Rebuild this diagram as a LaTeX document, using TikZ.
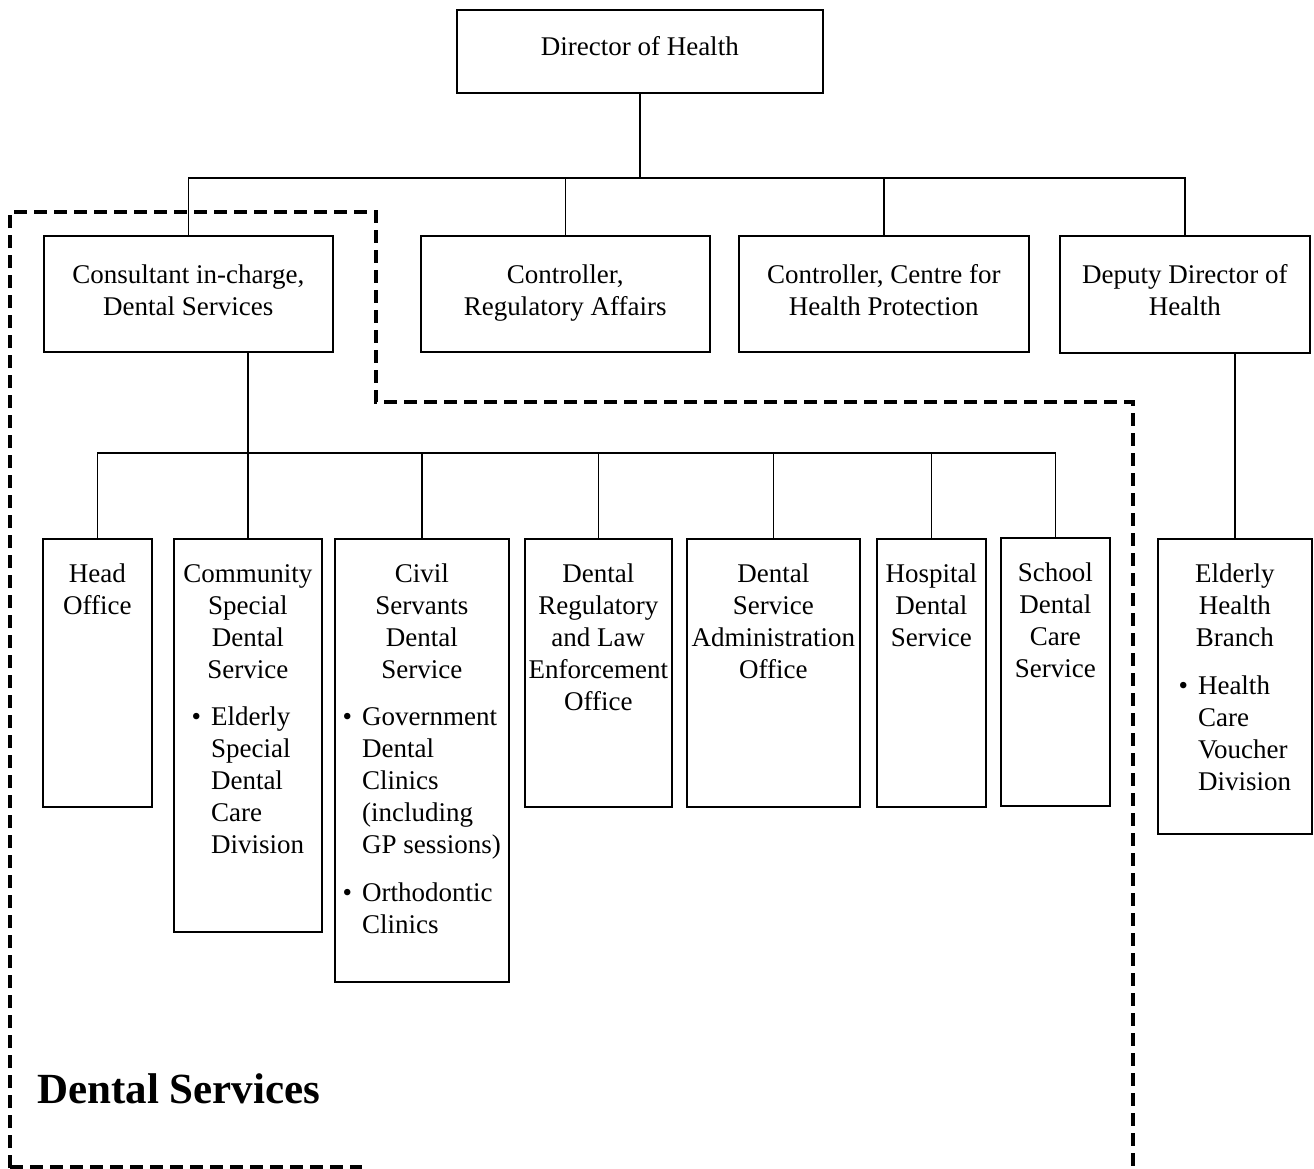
\documentclass[tikz,border=0pt]{standalone}
\usepackage{fontspec}
\setmainfont{Liberation Serif}

\tikzset{
  post/.style={draw, line width=1.6pt, inner sep=0pt, anchor=north west,
    font=\fontsize{27}{32}\selectfont},
  link/.style={line width=1.5pt},
  zone/.style={line width=3.2pt, dash pattern=on 13pt off 7pt},
}

\begin{document}
\begin{tikzpicture}[x=1pt, y=-1pt]
  \useasboundingbox (0,0) rectangle (1314,1168);
  % top of the tree
  \node[post] (dir) at (456,9) {\parbox[t][83pt][t]{366pt}{\centering\rule{0pt}{46pt}Director of Health}};
  \node[post] (cons) at (43,235) {\parbox[t][116pt][t]{289pt}{\centering\rule{0pt}{48pt}Consultant in-charge,\\Dental Services}};
  \node[post] (reg) at (420,235) {\parbox[t][116pt][t]{289pt}{\centering\rule{0pt}{48pt}Controller,\\Regulatory Affairs}};
  \node[post] (chp) at (738,235) {\parbox[t][116pt][t]{290pt}{\centering\rule{0pt}{48pt}Controller, Centre for\\Health Protection}};
  \node[post] (dep) at (1059,235) {\parbox[t][117pt][t]{250pt}{\centering\rule{0pt}{48pt}Deputy Director of\\Health}};
  % dental services units
  \node[post] (head) at (42,538) {\parbox[t][268pt][t]{109pt}{\centering\rule{0pt}{44pt}Head\\Office}};
  \node[post] (comm) at (173,538) {\parbox[t][393pt][t]{148pt}{\centering\rule{0pt}{44pt}Community\\Special\\Dental\\Service\\[15pt]
    \begin{tabular}[t]{@{}l@{\hspace{10pt}}l@{}}\textbullet & Elderly\\ & Special\\ & Dental\\ & Care\\ & Division\end{tabular}}};
  \node[post] (civil) at (334,538) {\parbox[t][443pt][t]{174pt}{\centering\rule{0pt}{44pt}Civil\\Servants\\Dental\\Service\\[15pt]
    \begin{tabular}[t]{@{}l@{\hspace{10pt}}l@{}}\textbullet & Government\\ & Dental\\ & Clinics\\ & (including\\ & GP sessions)\\[16pt]
    \textbullet & Orthodontic\\ & Clinics\end{tabular}}};
  \node[post] (drl) at (524,538) {\parbox[t][268pt][t]{147pt}{\centering\rule{0pt}{44pt}Dental\\Regulatory\\and Law\\Enforcement\\Office}};
  \node[post] (adm) at (686,538) {\parbox[t][268pt][t]{173pt}{\centering\rule{0pt}{44pt}Dental\\Service\\Administration\\Office}};
  \node[post] (hosp) at (876,538) {\parbox[t][268pt][t]{109pt}{\centering\rule{0pt}{44pt}Hospital\\Dental\\Service}};
  \node[post] (school) at (1000,537) {\parbox[t][268pt][t]{109pt}{\centering\rule{0pt}{44pt}School\\Dental\\Care\\Service}};
  \node[post] (eld) at (1157,538) {\parbox[t][295pt][t]{154pt}{\centering\rule{0pt}{44pt}Elderly\\Health\\Branch\\[16pt]
    \begin{tabular}[t]{@{}l@{\hspace{10pt}}l@{}}\textbullet & Health\\ & Care\\ & Voucher\\ & Division\end{tabular}}};
  % connectors
  \coordinate (topbus) at (633,178);
  \coordinate (lowbus) at (247,453);
  \draw[link] (dir.south) -- (dir.south |- topbus);
  \draw[link] (cons.north) -- (cons.north |- topbus) -- (dep.north |- topbus) -- (dep.north);
  \foreach \n in {reg,chp}
    \draw[link] (\n.north) -- (\n.north |- topbus);
  \draw[link] (eld.north) -- (eld.north |- dep.south);
  \draw[link] (comm.north) -- (comm.north |- cons.south);
  \draw[link] (head.north) -- (head.north |- lowbus) -- (school.north |- lowbus) -- (school.north);
  \foreach \n in {civil,drl,adm,hosp}
    \draw[link] (\n.north) -- (\n.north |- lowbus);
  % dental services area
  \draw[zone] (10,1168) -- (10,212) -- (376,212) -- (376,402) -- (1133,402) -- (1133,1168);
  \draw[zone] (10,1167) -- (362,1167);
  \node[anchor=base west, inner sep=0pt, font=\fontsize{43}{50}\selectfont\bfseries] (area) at (37,1103) {Dental Services};
\end{tikzpicture}
\end{document}
